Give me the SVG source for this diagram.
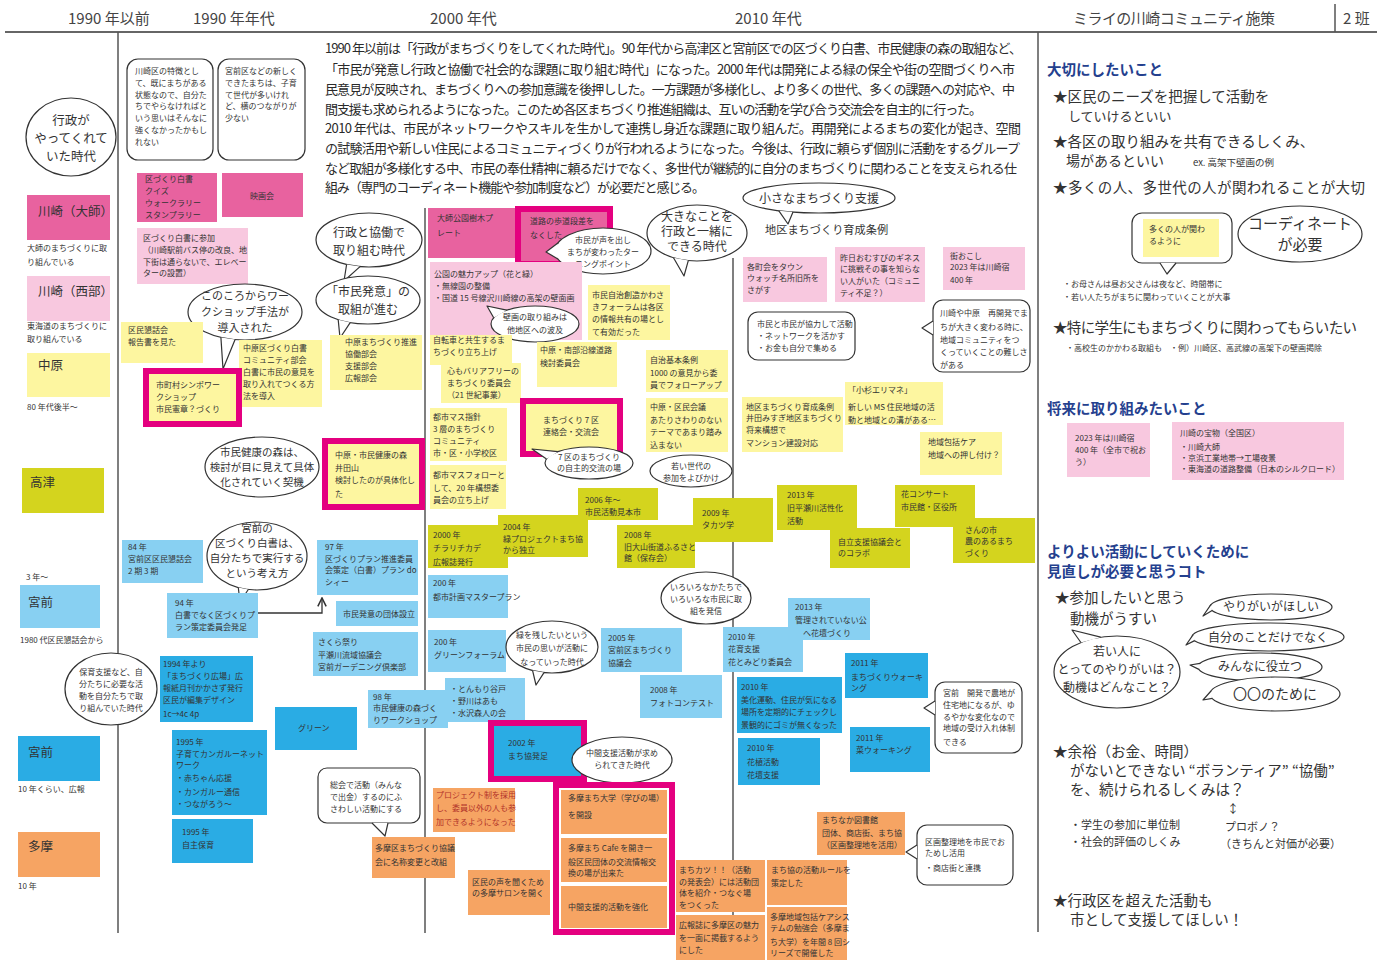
<svg xmlns="http://www.w3.org/2000/svg" width="1390" height="960" viewBox="0 0 1390 960">
<defs>
<style>
text{font-family:"Noto Sans CJK JP","Noto Sans",sans-serif;fill:#333}
.s{font-size:8px}
.h{font-size:15px;fill:#444}
.p{font-size:13px;fill:#2a2a2a}
.r{font-size:14.5px}
.q{font-size:11px}
.t{font-size:14.5px;font-weight:bold;fill:#24408e}
.c{text-anchor:middle}
.pk{fill:#e8629f}
.lp{fill:#f8c8df}
.ye{fill:#fdf6a0}
.yg{fill:#d4d41e}
.lb{fill:#88d0f2}
.db{fill:#2aace4}
.or{fill:#f6a463}
.mg{stroke:#e4007f;stroke-width:6}
.bub{fill:#fff;stroke:#333;stroke-width:1.2;stroke-linejoin:round}
.ln{stroke:#555;stroke-width:1.5;fill:none}
</style>
<marker id="ah" viewBox="0 0 10 10" refX="9" refY="5" markerWidth="8" markerHeight="8" orient="auto">
<path d="M1 1 L9 5 L1 9" fill="none" stroke="#333" stroke-width="1.5"/>
</marker>
</defs>
<rect width="1390" height="960" fill="#fff"/>

<g id="grid">
<line x1="5" y1="32" x2="1377" y2="32" stroke="#666" stroke-width="2"/>
<line class="ln" x1="1335" y1="4" x2="1335" y2="32"/>
<line class="ln" x1="118" y1="32" x2="118" y2="933"/>
<line class="ln" x1="425" y1="208" x2="425" y2="933"/>
<line class="ln" x1="733" y1="258" x2="733" y2="920"/>
<line class="ln" x1="1038" y1="32" x2="1038" y2="932"/>
</g>

<g id="header">
<text class="h" x="68" y="24">1990 年以前</text>
<text class="h" x="193" y="24">1990 年年代</text>
<text class="h" x="430" y="24">2000 年代</text>
<text class="h" x="735" y="24">2010 年代</text>
<text class="h" x="1073" y="24" textLength="202">ミライの川崎コミュニティ施策</text>
<text class="h" x="1343" y="24">2 班</text>
</g>

<g id="summary">
<text class="p" x="325" y="53" textLength="697">1990 年以前は「行政がまちづくりをしてくれた時代」。90 年代から高津区と宮前区での区づくり白書、市民健康の森の取組など、</text>
<text class="p" x="325" y="74" textLength="690">「市民が発意し行政と協働で社会的な課題に取り組む時代」になった。2000 年代は開発による緑の保全や街の空間づくりへ市</text>
<text class="p" x="325" y="94" textLength="690">民意見が反映され、まちづくりへの参加意識を後押しした。一方課題が多様化し、より多くの世代、多くの課題への対応や、中</text>
<text class="p" x="325" y="114" textLength="657">間支援も求められるようになった。このため各区まちづくり推進組織は、互いの活動を学び合う交流会を自主的に行った。</text>
<text class="p" x="325" y="133" textLength="696">2010 年代は、市民がネットワークやスキルを生かして連携し身近な課題に取り組んだ。再開発によるまちの変化が起き、空間</text>
<text class="p" x="325" y="153" textLength="695">の試験活用や新しい住民によるコミュニティづくりが行われるようになった。今後は、行政に頼らず個別に活動をするグループ</text>
<text class="p" x="325" y="173" textLength="692">など取組が多様化する中、市民の奉仕精神に頼るだけでなく、多世代が継続的に自分のまちづくりに関わることを支えられる仕</text>
<text class="p" x="325" y="192" textLength="380">組み（専門のコーディネート機能や参加制度など）が必要だと感じる。</text>
</g>

<!-- left column -->
<g id="n-gyosei-era">
<ellipse class="bub" cx="71" cy="137" rx="45" ry="39"/>
<text class="c" font-size="12.5"><tspan x="71" y="125">行政が</tspan><tspan x="71" y="143">やってくれて</tspan><tspan x="71" y="161">いた時代</tspan></text>
</g>
<g id="n-daishi">
<rect class="pk" x="27" y="195" width="83" height="45"/>
<text font-size="12.5" x="38" y="216">川崎（大師）</text>
<text class="s"><tspan x="27" y="251">大師のまちづくりに取</tspan><tspan x="27" y="265">り組んでいる</tspan></text>
</g>
<g id="n-seibu">
<rect class="lp" x="27" y="276" width="83" height="45"/>
<text font-size="12.5" x="38" y="296">川崎（西部）</text>
<text class="s"><tspan x="27" y="329">東海道のまちづくりに</tspan><tspan x="27" y="342">取り組んでいる</tspan></text>
</g>
<g id="n-nakahara">
<rect class="ye" x="27" y="353" width="83" height="44"/>
<text font-size="12.5" x="38" y="370">中原</text>
<text class="s" x="27" y="410">80 年代後半〜</text>
</g>
<g id="n-takatsu">
<rect class="yg" x="22" y="468" width="82" height="45"/>
<text font-size="12.5" x="30" y="487">高津</text>
<text class="s" x="26" y="580">3 年〜</text>
</g>
<g id="n-miyamae1">
<rect class="lb" x="20" y="585" width="80" height="43"/>
<text font-size="12.5" x="28" y="607">宮前</text>
<text class="s" x="20" y="643">1980 代区民懇話会から</text>
</g>
<g id="n-hoiku">
<ellipse class="bub" cx="111" cy="689" rx="46" ry="36"/>
<text class="s c"><tspan x="111" y="675">保育支援など、自</tspan><tspan x="111" y="687">分たちに必要な活</tspan><tspan x="111" y="699">動を自分たちで取</tspan><tspan x="111" y="711">り組んでいた時代</tspan></text>
</g>
<g id="n-miyamae2">
<rect class="db" x="18" y="736" width="82" height="45"/>
<text font-size="12.5" x="28" y="757">宮前</text>
<text class="s" x="18" y="792">10 年くらい、広報</text>
</g>
<g id="n-tama">
<rect class="or" x="18" y="832" width="82" height="45"/>
<text font-size="12.5" x="28" y="851">多摩</text>
<text class="s" x="18" y="889">10 年</text>
</g>

<!-- 1990s -->
<g id="n-kawasaki-note">
<rect class="bub" x="127" y="59" width="86" height="101" rx="11"/>
<text class="s"><tspan x="135" y="74">川崎区の特徴とし</tspan><tspan x="135" y="86">て、既にまちがある</tspan><tspan x="135" y="98">状態なので、自分た</tspan><tspan x="135" y="109">ちでやらなければと</tspan><tspan x="135" y="121">いう思いはそんなに</tspan><tspan x="135" y="133">強くなかったかもし</tspan><tspan x="135" y="145">れない</tspan></text>
</g>
<g id="n-miyamae-note">
<rect class="bub" x="218" y="59" width="87" height="101" rx="11"/>
<text class="s"><tspan x="225" y="74">宮前区などの新しく</tspan><tspan x="225" y="86">できたまちは、子育</tspan><tspan x="225" y="98">て世代が多いけれ</tspan><tspan x="225" y="109">ど、横のつながりが</tspan><tspan x="225" y="121">少ない</tspan></text>
</g>
<g id="n-hakusho-quiz">
<rect class="pk" x="137" y="173" width="80" height="49"/>
<text class="s"><tspan x="145" y="182">区づくり白書</tspan><tspan x="145" y="194">クイズ</tspan><tspan x="145" y="206">ウォークラリー</tspan><tspan x="145" y="218">スタンプラリー</tspan></text>
</g>
<g id="n-eigakai">
<rect class="pk" x="222" y="173" width="81" height="44"/>
<text class="s c" x="262" y="199">映画会</text>
</g>
<g id="n-hakusho-sanka">
<rect class="lp" x="137" y="228" width="111" height="56"/>
<text class="s"><tspan x="143" y="241">区づくり白書に参加</tspan><tspan x="143" y="253">（川崎駅前バス停の改良、地</tspan><tspan x="143" y="265">下街は通らないで、エレベー</tspan><tspan x="143" y="276">ターの設置）</tspan></text>
</g>
<g id="n-kyodo-era">
<ellipse class="bub" cx="369" cy="240" rx="53" ry="27"/>
<path class="bub" d="M360 266.6 L344 281 L346.6 264.5"/>
<text class="c" font-size="12"><tspan x="369" y="237">行政と協働で</tspan><tspan x="369" y="255">取り組む時代</tspan></text>
</g>
<g id="n-shimin-hatsui">
<ellipse class="bub" cx="368" cy="300" rx="52" ry="24"/>
<path class="bub" d="M350.2 322.6 L340 338 L338.2 319.7"/>
<text class="c" font-size="12"><tspan x="368" y="296">「市民発意」の</tspan><tspan x="368" y="314">取組が進む</tspan></text>
</g>
<g id="n-workshop-era">
<ellipse class="bub" cx="245" cy="312" rx="57" ry="28"/>
<path class="bub" d="M235.1 339.6 L223 369 L220.9 337.4"/>
<text class="c" font-size="11"><tspan x="245" y="300">このころからワー</tspan><tspan x="245" y="316">クショップ手法が</tspan><tspan x="245" y="332">導入された</tspan></text>
</g>
<g id="n-kumin-kondan">
<rect class="ye" x="121" y="322" width="82" height="41"/>
<text class="s"><tspan x="128" y="333">区民懇話会</tspan><tspan x="128" y="345">報告書を見た</tspan></text>
</g>
<g id="n-nakahara-hakusho">
<rect class="ye" x="239" y="340" width="83" height="67"/>
<text class="s"><tspan x="243" y="351">中原区づくり白書</tspan><tspan x="243" y="363">コミュニティ部会</tspan><tspan x="243" y="375">白書に市民の意見を</tspan><tspan x="243" y="387">取り入れてつくる方</tspan><tspan x="243" y="399">法を導入</tspan></text>
</g>
<g id="n-symposium">
<rect class="ye mg" x="146" y="371" width="93" height="53"/>
<text class="s"><tspan x="156" y="388">市町村シンポワー</tspan><tspan x="156" y="400">クショップ</tspan><tspan x="156" y="412">市民憲章？づくり</tspan></text>
</g>
<g id="n-nakahara-suishin">
<rect class="ye" x="330" y="335" width="92" height="55"/>
<text class="s"><tspan x="345" y="345">中原まちづくり推進</tspan><tspan x="345" y="357">協働部会</tspan><tspan x="345" y="369">支援部会</tspan><tspan x="345" y="381">広報部会</tspan></text>
</g>
<g id="n-kenko-mori-era">
<ellipse class="bub" cx="262" cy="467" rx="57" ry="30"/>
<text class="c" font-size="10.5"><tspan x="262" y="456">市民健康の森は、</tspan><tspan x="262" y="471">検討が目に見えて具体</tspan><tspan x="262" y="486">化されていく契機</tspan></text>
</g>
<g id="n-kenko-mori">
<rect class="ye mg" x="325" y="441" width="97" height="66"/>
<text class="s"><tspan x="335" y="458">中原・市民健康の森</tspan><tspan x="335" y="471">井田山</tspan><tspan x="335" y="483">検討したのが具体化し</tspan><tspan x="335" y="497">た</tspan></text>
</g>
<g id="n-miyamae-hakusho">
<ellipse class="bub" cx="257" cy="556" rx="50" ry="34"/>
<path class="bub" d="M248.3 589.5 L240 602 L238.3 587.5"/>
<text class="c" font-size="10.5"><tspan x="257" y="532">宮前の</tspan><tspan x="257" y="547">区づくり白書は、</tspan><tspan x="257" y="562">自分たちで実行する</tspan><tspan x="257" y="577">という考え方</tspan></text>
</g>
<g id="n-84">
<rect class="lb" x="122" y="540" width="81" height="43"/>
<text class="s"><tspan x="128" y="550">84 年</tspan><tspan x="128" y="562">宮前区区民懇話会</tspan><tspan x="128" y="574">2 期  3 期</tspan></text>
</g>
<g id="n-94">
<rect class="lb" x="167" y="593" width="91" height="45"/>
<text class="s"><tspan x="175" y="606">94 年</tspan><tspan x="175" y="618">白書でなく区づくりプ</tspan><tspan x="175" y="630">ラン策定委員会発足</tspan></text>
</g>
<g id="n-97">
<rect class="lb" x="317" y="540" width="101" height="55"/>
<text class="s"><tspan x="325" y="550">97 年</tspan><tspan x="325" y="562">区づくりプラン推進委員</tspan><tspan x="325" y="573">会策定（白書）プラン do</tspan><tspan x="325" y="585">シィー</tspan></text>
</g>
<g id="n-dantai">
<rect class="lb" x="336" y="601" width="82" height="25"/>
<text class="s" x="343" y="617">市民発意の団体設立</text>
</g>
<g id="n-sakura">
<rect class="lb" x="313" y="632" width="105" height="44"/>
<text class="s"><tspan x="318" y="645">さくら祭り</tspan><tspan x="318" y="658">平瀬川流域協議会</tspan><tspan x="318" y="670">宮前ガーデニング倶楽部</tspan></text>
</g>
<g id="n-1994">
<rect class="db" x="160" y="656" width="93" height="66"/>
<text class="s"><tspan x="163" y="667">1994 年より</tspan><tspan x="163" y="679">「まちづくり広場」広</tspan><tspan x="163" y="691">報紙月刊かかさず発行</tspan><tspan x="163" y="703">区民が編集デザイン</tspan><tspan x="163" y="717">1c→4c  4p</tspan></text>
</g>
<g id="n-1995-kangaroo">
<rect class="db" x="172" y="730" width="95" height="85"/>
<text class="s"><tspan x="176" y="745">1995 年</tspan><tspan x="176" y="757">子育てカンガルーネット</tspan><tspan x="176" y="768">ワーク</tspan><tspan x="176" y="781">・赤ちゃん応援</tspan><tspan x="176" y="795">・カンガルー通信</tspan><tspan x="176" y="807">・つながろう〜</tspan></text>
</g>
<g id="n-1995-hoiku">
<rect class="db" x="172" y="819" width="81" height="44"/>
<text class="s"><tspan x="182" y="835">1995 年</tspan><tspan x="182" y="848">自主保育</tspan></text>
</g>
<g id="n-green">
<rect class="db" x="275" y="707" width="82" height="43"/>
<text class="s" x="298" y="731">グリーン</text>
</g>
<g id="n-sokai">
<rect class="bub" x="318" y="768" width="102" height="55" rx="9"/>
<path class="bub" d="M372 823 L385 836 L388 823"/>
<text class="s"><tspan x="330" y="788">総会で活動（みんな</tspan><tspan x="330" y="800">で出金）するのにふ</tspan><tspan x="330" y="812">さわしい活動にする</tspan></text>
</g>
<g id="n-tama-kyogikai">
<rect class="or" x="372" y="837" width="83" height="41"/>
<text class="s" font-size="7.8"><tspan x="375" y="851">多摩区まちづくり協議</tspan><tspan x="375" y="865">会に名称変更と改組</tspan></text>
</g>

<!-- 2000s -->
<g id="n-daishi-koen">
<rect class="pk" x="428" y="208" width="92" height="50"/>
<text class="s"><tspan x="437" y="221">大師公園樹木プ</tspan><tspan x="437" y="236">レート</tspan></text>
</g>
<g id="n-dansa">
<rect class="pk mg" x="518" y="209" width="92" height="55"/>
<text class="s"><tspan x="530" y="224">道路の歩道段差を</tspan><tspan x="530" y="238">なくした</tspan></text>
</g>
<g id="n-turning-point">
<ellipse class="bub" cx="603" cy="251" rx="48" ry="23"/>
<path class="bub" d="M557.9 258.9 L546 252 L557.9 243.1"/>
<text class="s c" font-size="7.5"><tspan x="603" y="243">市民が声を出し</tspan><tspan x="603" y="255">まちが変わったター</tspan><tspan x="603" y="267">ニングポイント</tspan></text>
</g>
<g id="n-big-era">
<ellipse class="bub" cx="697" cy="233" rx="50" ry="28"/>
<path class="bub" d="M688.3 260.6 L684 276 L673.5 257.7"/>
<text class="c" font-size="12"><tspan x="697" y="221">大きなことを</tspan><tspan x="697" y="236">行政と一緒に</tspan><tspan x="697" y="251">できる時代</tspan></text>
</g>
<g id="n-koen-miryoku">
<rect class="lp" x="430" y="262" width="152" height="78"/>
<text class="s" font-size="7.8"><tspan x="434" y="277">公園の魅力アップ（花と緑）</tspan><tspan x="434" y="289">・無線園の整備</tspan><tspan x="434" y="301">・国道 15 号線沢川崎線の高架の壁面画</tspan></text>
</g>
<g id="n-hekiga">
<ellipse class="bub" cx="535" cy="324" rx="44" ry="18"/>
<path class="bub" d="M493.7 317.8 L487 306 L506.7 310.2"/>
<text class="s c"><tspan x="535" y="320">壁画の取り組みは</tspan><tspan x="535" y="333">他地区への波及</tspan></text>
</g>
<g id="n-forum">
<rect class="ye" x="588" y="285" width="82" height="55"/>
<text class="s"><tspan x="592" y="298">市民自治創造かわさ</tspan><tspan x="592" y="310">きフォーラムは各区</tspan><tspan x="592" y="322">の情報共有の場とし</tspan><tspan x="592" y="335">て有効だった</tspan></text>
</g>
<g id="n-jitensha">
<rect class="ye" x="430" y="335" width="82" height="30"/>
<text class="s"><tspan x="433" y="343">自転車と共生するま</tspan><tspan x="433" y="355">ちづくり立ち上げ</tspan></text>
</g>
<g id="n-barrierfree">
<rect class="ye" x="441" y="363" width="80" height="40"/>
<text class="s"><tspan x="447" y="374">心もバリアフリーの</tspan><tspan x="447" y="386">まちづくり委員会</tspan><tspan x="447" y="398">（21 世紀事業）</tspan></text>
</g>
<g id="n-toshimasu">
<rect class="ye" x="430" y="408" width="77" height="53"/>
<text class="s"><tspan x="433" y="420">都市マス指針</tspan><tspan x="433" y="432">3 層のまちづくり</tspan><tspan x="433" y="444">コミュニティ</tspan><tspan x="433" y="456">市・区・小学校区</tspan></text>
</g>
<g id="n-toshimasu-follow">
<rect class="ye" x="430" y="465" width="76" height="44"/>
<text class="s"><tspan x="433" y="478">都市マスフォローと</tspan><tspan x="433" y="491">して、20 年構想委</tspan><tspan x="433" y="503">員会の立ち上げ</tspan></text>
</g>
<g id="n-nanbu">
<rect class="ye" x="537" y="342" width="80" height="45"/>
<text class="s"><tspan x="540" y="353">中原・南部沿線道路</tspan><tspan x="540" y="366">検討委員会</tspan></text>
</g>
<g id="n-7ku">
<rect class="ye mg" x="523" y="401" width="97" height="53"/>
<text class="s"><tspan x="543" y="423">まちづくり 7 区</tspan><tspan x="543" y="435">連絡会・交流会</tspan></text>
</g>
<g id="n-7ku-note">
<ellipse class="bub" cx="589" cy="463" rx="44" ry="16"/>
<path class="bub" d="M546.5 458.9 L532 449 L557.9 451.7"/>
<text class="s c" font-size="7.5"><tspan x="589" y="460">7 区のまちづくり</tspan><tspan x="589" y="471">の自主的交流の場</tspan></text>
</g>
<g id="n-jichi">
<rect class="ye" x="646" y="350" width="82" height="42"/>
<text class="s"><tspan x="650" y="363">自治基本条例</tspan><tspan x="650" y="376">1000 の意見から委</tspan><tspan x="650" y="388">員でフォローアップ</tspan></text>
</g>
<g id="n-kumin-kaigi">
<rect class="ye" x="646" y="398" width="82" height="54"/>
<text class="s"><tspan x="650" y="410">中原・区民会議</tspan><tspan x="650" y="423">あたりさわりのない</tspan><tspan x="650" y="435">テーマであまり踏み</tspan><tspan x="650" y="448">込まない</tspan></text>
</g>
<g id="n-wakai-sedai">
<ellipse class="bub" cx="691" cy="471" rx="41" ry="16"/>
<text class="s c"><tspan x="691" y="469">若い世代の</tspan><tspan x="691" y="481">参加をよびかけ</tspan></text>
</g>
<g id="n-2006">
<rect class="yg" x="578" y="488" width="80" height="32"/>
<text class="s"><tspan x="585" y="503">2006 年〜</tspan><tspan x="585" y="515">市民活動見本市</tspan></text>
</g>
<g id="n-2000">
<rect class="yg" x="428" y="525" width="80" height="43"/>
<text class="s"><tspan x="433" y="538">2000 年</tspan><tspan x="433" y="551">チラリチカデ</tspan><tspan x="433" y="565">広報誌発行</tspan></text>
</g>
<g id="n-2004">
<rect class="yg" x="498" y="515" width="90" height="42"/>
<text class="s"><tspan x="503" y="530">2004 年</tspan><tspan x="503" y="542">緑プロジェクトまち協</tspan><tspan x="503" y="553">から独立</tspan></text>
</g>
<g id="n-2008-oyama">
<rect class="yg" x="617" y="525" width="78" height="43"/>
<text class="s"><tspan x="624" y="538">2008 年</tspan><tspan x="624" y="550">旧大山街道ふるさと</tspan><tspan x="624" y="561">館（保存会）</tspan></text>
</g>
<g id="n-2009">
<rect class="yg" x="693" y="498" width="80" height="44"/>
<text class="s"><tspan x="702" y="516">2009 年</tspan><tspan x="702" y="528">タカツ学</tspan></text>
</g>
<g id="n-2013-hirase">
<rect class="yg" x="777" y="485" width="80" height="45"/>
<text class="s"><tspan x="787" y="498">2013 年</tspan><tspan x="787" y="511">旧平瀬川活性化</tspan><tspan x="787" y="524">活動</tspan></text>
</g>
<g id="n-jiritsu">
<rect class="yg" x="830" y="528" width="80" height="40"/>
<text class="s"><tspan x="838" y="545">自立支援協議会と</tspan><tspan x="838" y="556">のコラボ</tspan></text>
</g>
<g id="n-hana-concert">
<rect class="yg" x="895" y="485" width="80" height="42"/>
<text class="s"><tspan x="901" y="497">花コンサート</tspan><tspan x="901" y="510">市民館・区役所</tspan></text>
</g>
<g id="n-sannoichi">
<rect class="yg" x="953" y="518" width="82" height="45"/>
<text class="s"><tspan x="965" y="533">さんの市</tspan><tspan x="965" y="544">農のあるまち</tspan><tspan x="965" y="556">づくり</tspan></text>
</g>
<g id="n-iroiro">
<ellipse class="bub" cx="706" cy="598" rx="45" ry="26"/>
<text class="s c"><tspan x="706" y="590">いろいろなかたちで</tspan><tspan x="706" y="602">いろいろな市民に取</tspan><tspan x="706" y="614">組を発信</tspan></text>
</g>
<g id="n-200-master">
<rect class="lb" x="428" y="575" width="80" height="43"/>
<text class="s"><tspan x="433" y="586">200 年</tspan><tspan x="433" y="600">都市計画マスタープラン</tspan></text>
</g>
<g id="n-200-green">
<rect class="lb" x="428" y="630" width="78" height="42"/>
<text class="s"><tspan x="434" y="645">200 年</tspan><tspan x="434" y="658">グリーンフォーラム</tspan></text>
</g>
<g id="n-midori-era">
<ellipse class="bub" cx="552" cy="647" rx="46" ry="26"/>
<path class="bub" d="M544 672.6 L536 685 L532.6 670.6"/>
<text class="s c"><tspan x="552" y="638">緑を残したいという</tspan><tspan x="552" y="651">市民の思いが活動に</tspan><tspan x="552" y="665">なっていった時代</tspan></text>
</g>
<g id="n-2005">
<rect class="lb" x="601" y="628" width="81" height="44"/>
<text class="s"><tspan x="608" y="641">2005 年</tspan><tspan x="608" y="653">宮前区まちづくり</tspan><tspan x="608" y="666">協議会</tspan></text>
</g>
<g id="n-2008-photo">
<rect class="lb" x="640" y="675" width="82" height="43"/>
<text class="s"><tspan x="650" y="693">2008 年</tspan><tspan x="650" y="706">フォトコンテスト</tspan></text>
</g>
<g id="n-98">
<rect class="lb" x="368" y="690" width="80" height="38"/>
<text class="s"><tspan x="373" y="700">98 年</tspan><tspan x="373" y="711">市民健康の森づく</tspan><tspan x="373" y="723">りワークショップ</tspan></text>
</g>
<g id="n-tonmori">
<rect class="lb" x="445" y="678" width="80" height="44"/>
<text class="s"><tspan x="450" y="692">・とんもり谷戸</tspan><tspan x="450" y="704">・野川はあも</tspan><tspan x="450" y="716">・水沢森人の会</tspan></text>
</g>
<g id="n-2002">
<rect class="db mg" x="491" y="723" width="93" height="56"/>
<text class="s"><tspan x="508" y="746">2002 年</tspan><tspan x="508" y="759">まち協発足</tspan></text>
</g>
<g id="n-chukan-era">
<ellipse class="bub" cx="622" cy="760" rx="50" ry="23"/>
<text class="s c"><tspan x="622" y="756">中間支援活動が求め</tspan><tspan x="622" y="768">られてきた時代</tspan></text>
</g>
<g id="n-project">
<rect class="or" x="433" y="788" width="82" height="44"/>
<text class="s" font-size="7.8" style="fill:#b2332a"><tspan x="436" y="798">プロジェクト制を採用</tspan><tspan x="436" y="811">し、委員以外の人も参</tspan><tspan x="436" y="825">加できるようになった</tspan></text>
</g>
<g id="n-tama-group">
<rect x="556" y="785" width="116" height="147" fill="none" class="mg"/>
<rect class="or" x="561" y="790" width="106" height="44"/>
<text class="s"><tspan x="568" y="801">多摩まち大学（学びの場）</tspan><tspan x="568" y="818">を開設</tspan></text>
<rect class="or" x="561" y="838" width="106" height="44"/>
<text class="s"><tspan x="568" y="851">多摩まち Cafe を開き一</tspan><tspan x="568" y="865">般区民団体の交流情報交</tspan><tspan x="568" y="876">換の場が出来た</tspan></text>
<rect class="or" x="561" y="886" width="106" height="42"/>
<text class="s" x="568" y="910">中間支援的活動を強化</text>
</g>
<g id="n-salon">
<rect class="or" x="468" y="870" width="82" height="45"/>
<text class="s"><tspan x="472" y="885">区民の声を聞くため</tspan><tspan x="472" y="896">の多摩サロンを開く</tspan></text>
</g>

<!-- 2010s -->
<g id="n-chiisana">
<ellipse class="bub" cx="819" cy="198" rx="76" ry="15"/>
<path class="bub" d="M793 212.1 L788 224 L778.7 210.7"/>
<text class="c" font-size="12" x="819" y="203">小さなまちづくり支援</text>
</g>
<g id="n-jorei">
<text font-size="11.2" x="765" y="234">地区まちづくり育成条例</text>
</g>
<g id="n-chokai">
<rect class="lp" x="743" y="257" width="84" height="45"/>
<text class="s"><tspan x="747" y="270">各町会をタウン</tspan><tspan x="747" y="281">ウォッチ名所旧所を</tspan><tspan x="747" y="293">さがす</tspan></text>
</g>
<g id="n-omusubi">
<rect class="lp" x="835" y="247" width="90" height="55"/>
<text class="s"><tspan x="840" y="261">昨日おむすびのギネス</tspan><tspan x="840" y="272">に挑戦その事を知らな</tspan><tspan x="840" y="284">い人がいた（コミュニ</tspan><tspan x="840" y="296">ティ不足？）</tspan></text>
</g>
<g id="n-machiokoshi">
<rect class="lp" x="943" y="247" width="82" height="43"/>
<text class="s"><tspan x="950" y="259">街おこし</tspan><tspan x="950" y="270">2023 年は川崎宿</tspan><tspan x="950" y="283">400 年</tspan></text>
</g>
<g id="n-saikaihatsu">
<rect class="bub" x="933" y="300" width="97" height="72" rx="10"/>
<path class="bub" d="M933 321 L922 328 L933 335"/>
<text class="s" font-size="7.8"><tspan x="940" y="316">川崎や中原　再開発でま</tspan><tspan x="940" y="330">ちが大きく変わる時に、</tspan><tspan x="940" y="343">地域コミュニティをつ</tspan><tspan x="940" y="355">くっていくことの難しさ</tspan><tspan x="940" y="368">がある</tspan></text>
</g>
<g id="n-shimin-kyoryoku">
<rect class="bub" x="748" y="312" width="107" height="48" rx="10"/>
<text class="s" font-size="7.6"><tspan x="757" y="327">市民と市民が協力して活動</tspan><tspan x="757" y="339">・ネットワークを活かす</tspan><tspan x="757" y="351">・お金も自分で集める</tspan></text>
</g>
<g id="n-ida">
<rect class="ye" x="742" y="397" width="101" height="55"/>
<text class="s"><tspan x="746" y="410">地区まちづくり育成条例</tspan><tspan x="746" y="421">井田みすぎ地区まちづくり</tspan><tspan x="746" y="433">将来構想で</tspan><tspan x="746" y="446">マンション建設対応</tspan></text>
</g>
<g id="n-kosugi">
<rect class="ye" x="845" y="382" width="98" height="43"/>
<text class="s"><tspan x="848" y="393">「小杉エリマネ」</tspan><tspan x="848" y="410">新しい MS 住民地域の活</tspan><tspan x="848" y="423">動と地域との溝がある…</tspan></text>
</g>
<g id="n-houkatsu">
<rect class="ye" x="920" y="432" width="82" height="43"/>
<text class="s"><tspan x="928" y="445">地域包括ケア</tspan><tspan x="928" y="458">地域への押し付け？</tspan></text>
</g>
<g id="n-2013-kadan">
<rect class="lb" x="788" y="598" width="82" height="42"/>
<text class="s"><tspan x="795" y="610">2013 年</tspan><tspan x="795" y="623">管理されていない公</tspan><tspan x="795" y="636">園へ花壇づくり</tspan></text>
</g>
<g id="n-2010-hanaiku">
<rect class="lb" x="723" y="627" width="80" height="45"/>
<text class="s"><tspan x="728" y="640">2010 年</tspan><tspan x="728" y="652">花育支援</tspan><tspan x="728" y="665">花とみどり委員会</tspan></text>
</g>
<g id="n-2011-walking">
<rect class="db" x="845" y="653" width="83" height="45"/>
<text class="s"><tspan x="851" y="666">2011 年</tspan><tspan x="851" y="680">まちづくりウォーキ</tspan><tspan x="851" y="691">ング</tspan></text>
</g>
<g id="n-2010-bika">
<rect class="db" x="737" y="677" width="105" height="56"/>
<text class="s"><tspan x="741" y="690">2010 年</tspan><tspan x="741" y="703">美化運動、住民が気になる</tspan><tspan x="741" y="715">場所を定期的にチェックし</tspan><tspan x="741" y="728">景観的にゴミが無くなった</tspan></text>
</g>
<g id="n-2010-hanaue">
<rect class="db" x="738" y="738" width="82" height="47"/>
<text class="s"><tspan x="747" y="751">2010 年</tspan><tspan x="747" y="765">花植活動</tspan><tspan x="747" y="778">花壇支援</tspan></text>
</g>
<g id="n-2011-sato">
<rect class="db" x="850" y="727" width="80" height="45"/>
<text class="s"><tspan x="856" y="741">2011 年</tspan><tspan x="856" y="753">菜ウォーキング</tspan></text>
</g>
<g id="n-miyamae-kaihatsu">
<rect class="bub" x="935" y="682" width="87" height="71" rx="10"/>
<path class="bub" d="M935 701 L924 708 L935 715"/>
<text class="s"><tspan x="943" y="696">宮前　開発で農地が</tspan><tspan x="943" y="708">住宅地になるが、ゆ</tspan><tspan x="943" y="720">るやかな変化なので</tspan><tspan x="943" y="731">地域の受け入れ体制</tspan><tspan x="943" y="745">できる</tspan></text>
</g>
<g id="n-machinaka">
<rect class="or" x="817" y="812" width="88" height="43"/>
<text class="s"><tspan x="822" y="823">まちなか図書館</tspan><tspan x="822" y="836">団体、商店街、まち協</tspan><tspan x="822" y="848">（区画整理地を活用）</tspan></text>
</g>
<g id="n-kukaku">
<rect class="bub" x="917" y="825" width="96" height="60" rx="10"/>
<path class="bub" d="M917 845 L906 852 L917 859"/>
<text class="s"><tspan x="925" y="845">区画整理地を市民でお</tspan><tspan x="925" y="856">ためし活用</tspan><tspan x="925" y="871">・商店街と連携</tspan></text>
</g>
<g id="n-machikatsu">
<rect class="or" x="676" y="860" width="89" height="52"/>
<text class="s"><tspan x="679" y="873">まちカツ！！（活動</tspan><tspan x="679" y="885">の発表会）には活動団</tspan><tspan x="679" y="896">体を紹介・つなぐ場</tspan><tspan x="679" y="908">をつくった</tspan></text>
</g>
<g id="n-kohoshi">
<rect class="or" x="676" y="915" width="89" height="45"/>
<text class="s"><tspan x="679" y="928">広報誌に多摩区の魅力</tspan><tspan x="679" y="941">を一面に掲載するよう</tspan><tspan x="679" y="953">にした</tspan></text>
</g>
<g id="n-rule">
<rect class="or" x="767" y="860" width="80" height="45"/>
<text class="s" font-size="7.8"><tspan x="771" y="873">まち協の活動ルールを</tspan><tspan x="771" y="886">策定した</tspan></text>
</g>
<g id="n-care-study">
<rect class="or" x="767" y="907" width="80" height="53"/>
<text class="s" font-size="7.6"><tspan x="770" y="920">多摩地域包括ケアシス</tspan><tspan x="770" y="931">テムの勉強会（多摩ま</tspan><tspan x="770" y="945">ち大学）を年間 8 回シ</tspan><tspan x="770" y="956">リーズで開催した</tspan></text>
</g>

<!-- right panel -->
<g id="p-taisetsu">
<text class="t" x="1047" y="75">大切にしたいこと</text>
<text class="r" x="1053" y="102">★区民のニーズを把握して活動を</text>
<text font-size="13" x="1068" y="121">していけるといい</text>
<text class="r" x="1053" y="147">★各区の取り組みを共有できるしくみ、</text>
<text font-size="14" x="1066" y="166">場があるといい</text>
<text font-size="9.5" x="1193" y="166">ex. 高架下壁画の例</text>
<text class="r" x="1053" y="193" textLength="312">★多くの人、多世代の人が関われることが大切</text>
</g>
<g id="p-ookuno">
<rect class="bub" x="1132" y="213" width="100" height="50" rx="10"/>
<path class="bub" d="M1160 263 L1167 274 L1176 263"/>
<rect class="ye" x="1143" y="219" width="76" height="38"/>
<text class="s"><tspan x="1149" y="232">多くの人が関わ</tspan><tspan x="1149" y="244">るように</tspan></text>
</g>
<g id="p-coordinate">
<ellipse class="bub" cx="1300" cy="234" rx="62" ry="28"/>
<text class="c" font-size="15"><tspan x="1300" y="229">コーディネート</tspan><tspan x="1300" y="250">が必要</tspan></text>
</g>
<g id="p-notes1">
<text class="s" font-size="7.3"><tspan x="1063" y="287">・お母さんは昼お父さんは夜など、時間帯に</tspan><tspan x="1063" y="300">・若い人たちがまちに関わっていくことが大事</tspan></text>
</g>
<g id="p-gakusei">
<text class="r" x="1053" y="333" textLength="304">★特に学生にもまちづくりに関わってもらいたい</text>
<text class="s" font-size="7.3" x="1066" y="351">・高校生のかかわる取組も</text>
<text class="s" font-size="7.3" x="1170" y="351">・例）川崎区、高武線の高架下の壁画掲除</text>
</g>
<g id="p-shorai">
<text class="t" x="1047" y="414">将来に取り組みたいこと</text>
<rect class="lp" x="1067" y="423" width="83" height="54"/>
<text class="s"><tspan x="1075" y="441">2023 年は川崎宿</tspan><tspan x="1075" y="453">400 年（全市で祝お</tspan><tspan x="1075" y="465">う）</tspan></text>
<rect class="lp" x="1172" y="422" width="172" height="58"/>
<text class="s"><tspan x="1180" y="436">川崎の宝物（全国区）</tspan><tspan x="1180" y="450">・川崎大師</tspan><tspan x="1180" y="461">・京浜工業地帯→工場夜景</tspan><tspan x="1180" y="472">・東海道の道路整備（日本のシルクロード）</tspan></text>
</g>
<g id="p-minaoshi">
<text class="t" x="1047" y="557">よりよい活動にしていくために</text>
<text class="t" x="1047" y="577">見直しが必要と思うコト</text>
<text class="r" x="1055" y="603">★参加したいと思う</text>
<text class="r" x="1070" y="624">動機がうすい</text>
</g>
<g id="p-wakai">
<ellipse class="bub" cx="1117" cy="672" rx="63" ry="36"/>
<path class="bub" d="M1080.9 642.5 L1072 630 L1100.7 637.2"/>
<text class="c" font-size="12"><tspan x="1117" y="656">若い人に</tspan><tspan x="1117" y="674">とってのやりがいは？</tspan><tspan x="1117" y="692">動機はどんなこと？</tspan></text>
</g>
<g id="p-yarigai">
<ellipse class="bub" cx="1271" cy="607" rx="61" ry="13"/>
<path class="bub" d="M1212.1 610.4 L1203 616 L1210.9 604.7"/>
<text class="c" font-size="12" x="1271" y="611">やりがいがほしい</text>
</g>
<g id="p-jibun">
<ellipse class="bub" cx="1268" cy="637" rx="76" ry="14"/>
<path class="bub" d="M1194.6 640.6 L1186 645 L1193.2 634.6"/>
<text class="c" font-size="12" x="1268" y="642">自分のことだけでなく</text>
</g>
<g id="p-minna">
<ellipse class="bub" cx="1260" cy="667" rx="62" ry="14"/>
<path class="bub" d="M1198.9 669.4 L1190 665 L1200.1 663.4"/>
<text class="c" font-size="12" x="1260" y="671">みんなに役立つ</text>
</g>
<g id="p-tameni">
<ellipse class="bub" cx="1275" cy="694" rx="65" ry="17"/>
<path class="bub" d="M1212.2 698.4 L1203 700 L1211 691"/>
<text class="c" font-size="14" x="1275" y="699">〇〇のために</text>
</g>
<g id="p-yoyu">
<text class="r" x="1053" y="757">★余裕（お金、時間）</text>
<text class="r" x="1070" y="776">がないとできない “ボランティア” “協働”</text>
<text class="r" x="1070" y="795">を、続けられるしくみは？</text>
<text font-size="12" x="1227" y="814">↕</text>
<text class="q" x="1070" y="829">・学生の参加に単位制</text>
<text class="q" x="1070" y="846">・社会的評価のしくみ</text>
<text class="q" x="1225" y="831">プロボノ？</text>
<text class="q" x="1220" y="848">（きちんと対価が必要）</text>
</g>
<g id="p-gyoseiku">
<text class="r" x="1053" y="906">★行政区を超えた活動も</text>
<text class="r" x="1070" y="925">市として支援してほしい！</text>
</g>

<g id="connectors">
<path d="M258 613 H322 V598" fill="none" stroke="#333" stroke-width="1.3" marker-end="url(#ah)"/>
</g>
</svg>
